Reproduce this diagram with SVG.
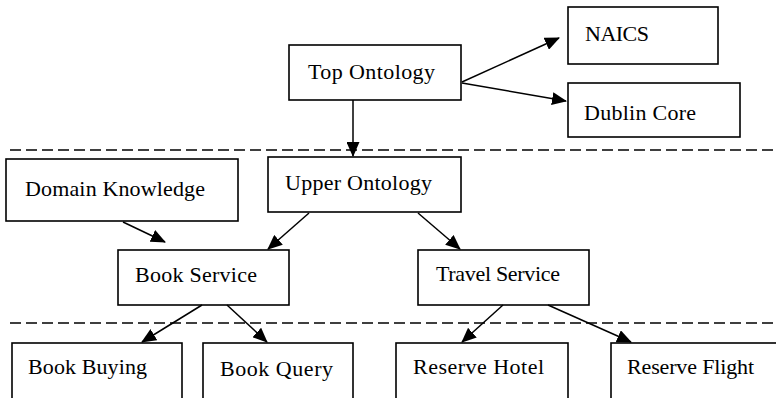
<svg xmlns="http://www.w3.org/2000/svg" width="776" height="398" viewBox="0 0 776 398">
<defs>
<marker id="ah" markerWidth="15" markerHeight="13" refX="14" refY="6.5" orient="auto" markerUnits="userSpaceOnUse">
<path d="M0,0 L15,6.5 L0,13 Z" fill="#000"/>
</marker>
<style>
rect{fill:#fff;stroke:#000;stroke-width:1.6}
text{font-family:"Liberation Serif","Times New Roman",serif;font-size:22px;fill:#000}
.c line{stroke:#000;stroke-width:1.5;marker-end:url(#ah)}
.d{stroke:#000;stroke-width:1.6;stroke-dasharray:11 5;fill:none}
</style>
</defs>
<rect x="0" y="0" width="776" height="398" style="stroke:none;fill:#fff"/>
<line class="d" x1="10" y1="150" x2="776" y2="150"/>
<line class="d" x1="10" y1="323" x2="776" y2="323"/>
<g id="top"><rect x="289" y="45" width="172" height="55"/><text x="308" y="79" textLength="127" lengthAdjust="spacing">Top Ontology</text></g>
<g id="naics"><rect x="568" y="7" width="150" height="57"/><text x="585" y="41" textLength="64" lengthAdjust="spacing">NAICS</text></g>
<g id="dublin"><rect x="568" y="83" width="172" height="54"/><text x="584" y="120" textLength="112" lengthAdjust="spacing">Dublin Core</text></g>
<g id="upper"><rect x="268" y="157" width="193" height="55"/><text x="285" y="190" textLength="147" lengthAdjust="spacing">Upper Ontology</text></g>
<g id="domain"><rect x="6" y="159" width="232" height="62"/><text x="25" y="196" textLength="180" lengthAdjust="spacing">Domain Knowledge</text></g>
<g id="book"><rect x="118" y="250" width="171" height="55"/><text x="135" y="282" textLength="122" lengthAdjust="spacing">Book Service</text></g>
<g id="travel"><rect x="418" y="250" width="171" height="55"/><text x="436" y="281" textLength="124" lengthAdjust="spacing">Travel Service</text></g>
<g id="buying"><rect x="12" y="343" width="170" height="60"/><text x="28" y="374" textLength="119" lengthAdjust="spacing">Book Buying</text></g>
<g id="query"><rect x="203" y="343" width="150" height="60"/><text x="220" y="376" textLength="113" lengthAdjust="spacing">Book Query</text></g>
<g id="hotel"><rect x="396" y="343" width="172" height="60"/><text x="413" y="374" textLength="131" lengthAdjust="spacing">Reserve Hotel</text></g>
<g id="flight"><rect x="611" y="343" width="170" height="60"/><text x="627" y="374" textLength="127" lengthAdjust="spacing">Reserve Flight</text></g>
<g class="c" id="connectors">
<line x1="462" y1="82" x2="559" y2="38"/>
<line x1="462" y1="83" x2="566" y2="101"/>
<line x1="353" y1="100" x2="353" y2="156"/>
<line x1="123" y1="222" x2="165" y2="242"/>
<line x1="309" y1="213" x2="268" y2="249"/>
<line x1="418" y1="213" x2="460" y2="249"/>
<line x1="202" y1="305" x2="142" y2="342"/>
<line x1="227" y1="305" x2="267" y2="342"/>
<line x1="503" y1="305" x2="462" y2="342"/>
<line x1="548" y1="305" x2="631" y2="342"/>
</g>
</svg>
